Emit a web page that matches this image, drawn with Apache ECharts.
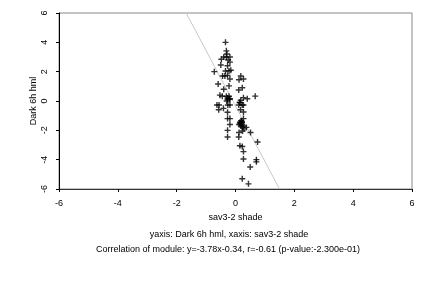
<!DOCTYPE html>
<html>
<head>
<meta charset="utf-8">
<script src="https://cdn.jsdelivr.net/npm/echarts@6/dist/echarts.min.js"></script>
<style>
  html, body { margin: 0; padding: 0; background: #fff; }
  #chart { width: 432px; height: 288px; }
</style>
</head>
<body>
<div id="chart"></div>
<script>
// points: x = sav3-2 shade, y = Dark 6h hml
var xs = [-0.34, -0.31, -0.29, -0.40, -0.31, -0.19, -0.48, -0.25, -0.19, -0.50, -0.27,
          -0.34, -0.22, -0.16, -0.72, -0.44, -0.36, -0.27, -0.19, -0.59, -0.22, -0.40,
          -0.53, -0.45, -0.31, -0.22, -0.27, -0.19, -0.27, -0.20, -0.63, -0.56, -0.26,
          -0.19, -0.41, -0.57, -0.27, -0.27, -0.19, -0.19, -0.27, -0.27, -0.30,
          0.18, 0.12, 0.27, 0.11, 0.23, 0.27, 0.40, 0.67, 0.15, 0.11, 0.23, 0.27,
          0.17, 0.27, 0.27, 0.15, 0.19, 0.22, 0.12, 0.22, 0.26, 0.18, 0.20, 0.24,
          0.37, 0.29, 0.24, 0.12, 0.51, 0.11, 0.75, 0.15, 0.23, 0.27, 0.71, 0.71,
          0.27, 0.50, 0.23, 0.44, 0.16, 0.21, 0.14, 0.18];
var ys = [4.00, 3.42, 3.20, 3.00, 3.00, 3.00, 2.85, 2.80, 2.65, 2.45, 2.40,
          2.05, 2.05, 2.10, 2.00, 1.70, 1.70, 1.75, 1.50, 1.16, 1.03, 0.80,
          0.40, 0.32, 0.32, 0.32, 0.20, 0.15, 0.10, 0.12, -0.27, -0.27, -0.27,
          -0.27, -0.50, -0.60, -0.77, -1.20, -1.20, -1.60, -2.00, -2.45, 0.00,
          1.70, 1.45, 1.50, 0.75, 0.90, 0.23, 0.15, 0.33, -0.10, -0.27, -0.27, -0.27,
          -0.60, -0.75, -1.20, -1.45, -1.35, -1.45, -1.60, -1.60, -1.70, -1.70, -1.50,
          -1.80, -1.80, -1.90, -2.05, -2.15, -2.15, -2.45, -2.80, -3.05, -3.10, -3.45,
          -4.00, -4.15, -3.95, -4.50, -5.30, -5.65, -1.55, -1.40, -0.10, 0.05];

// fitted line from the caption
var fitSlope = -3.78;
var fitIntercept = -0.34;
var axisTicks = [-6, -4, -2, 0, 2, 4, 6];

var points = xs.map(function (x, i) { return [x, ys[i]]; });
var yMin = axisTicks[0], yMax = axisTicks[axisTicks.length - 1];
var fitLine = [
    [(yMax - fitIntercept) / fitSlope, yMax],
    [(yMin - fitIntercept) / fitSlope, yMin]
];

var font = 'Liberation Sans';
var chart = echarts.init(document.getElementById('chart'));
var option = {
    animation: false,
    textStyle: { fontFamily: font },
    title: [
        {
            text: 'yaxis: Dark 6h hml, xaxis: sav3-2 shade',
            left: 224, top: 225, textAlign: 'center',
            textStyle: { fontSize: 9, fontWeight: 'normal', color: '#000', fontFamily: font }
        },
        {
            text: 'Correlation of module: y=-3.78x-0.34, r=-0.61 (p-value:-2.300e-01)',
            left: 223, top: 240, textAlign: 'center',
            textStyle: { fontSize: 9, fontWeight: 'normal', color: '#000', fontFamily: font }
        }
    ],
    grid: {
        left: 59, right: 20, top: 13, bottom: 99,
        show: true, borderColor: '#888', borderWidth: 1, backgroundColor: '#fff'
    },
    xAxis: {
        type: 'value', min: -6, max: 6, interval: 2,
        name: 'sav3-2 shade', nameLocation: 'middle', nameGap: 24,
        nameTextStyle: { fontSize: 9, color: '#000', fontFamily: font },
        axisLine: { show: true, onZero: false, lineStyle: { color: '#333' } },
        axisTick: { show: true, length: 3, lineStyle: { color: '#000' } },
        axisLabel: { fontSize: 9, color: '#000', margin: 10 },
        splitLine: { show: false }
    },
    yAxis: {
        type: 'value', min: -6, max: 6, interval: 2,
        name: 'Dark 6h hml', nameLocation: 'middle', nameGap: 21, nameRotate: 90,
        nameMoveOverlap: false,
        nameTextStyle: { fontSize: 9, color: '#000', fontFamily: font },
        axisLine: { show: true, onZero: false, lineStyle: { color: '#000' } },
        axisTick: { show: true, length: 3, lineStyle: { color: '#000' } },
        axisLabel: { fontSize: 9, color: '#000', rotate: 90, margin: 10 },
        splitLine: { show: false }
    },
    series: [
        {
            type: 'line',
            data: fitLine,
            symbol: 'none',
            silent: true,
            lineStyle: { color: '#c8c8c8', width: 1 },
            z: 1
        },
        {
            type: 'scatter',
            data: points,
            symbol: 'path://M2.3,0h1.4v2.3h2.3v1.4h-2.3v2.3h-1.4v-2.3h-2.3v-1.4h2.3z',
            symbolSize: 6,
            itemStyle: { color: '#000' },
            z: 2
        }
    ]
};
chart.setOption(option);
</script>
</body>
</html>
